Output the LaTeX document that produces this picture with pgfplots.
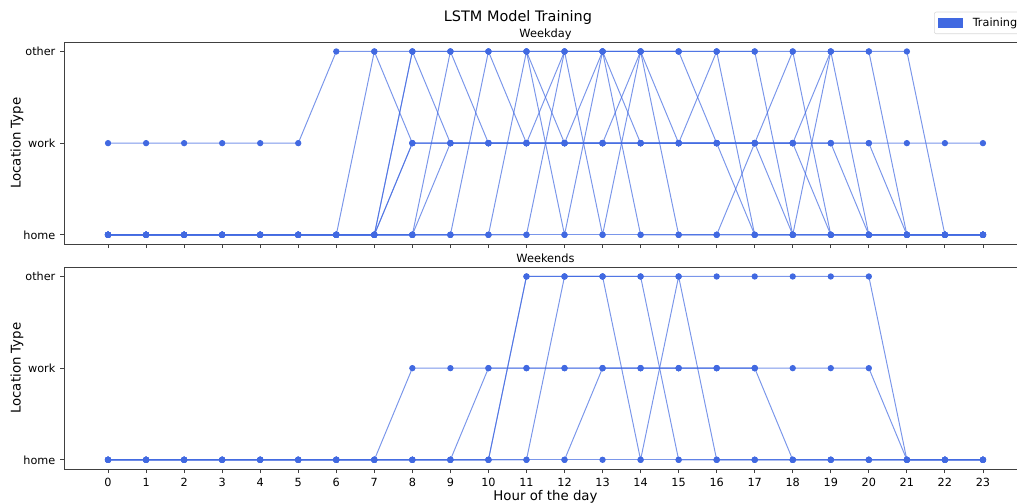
\documentclass[border=0pt]{standalone}
\usepackage{fontspec}
\setmainfont{DejaVu Sans}
\usepackage{pgfplots}
\usepackage{pgfplotstable}
\pgfplotsset{compat=1.18}
\definecolor{royal}{RGB}{65,105,225}

% one column per trajectory, 0 = home, 1 = work, 2 = other
\pgfplotstableread{
h  T1 T2 T3 C1 C2 C3 C4 C5 C6 C7 C8 C9  C10
0  0  1  0  0  0  0  0  0  0  0  0  nan 0
1  0  1  0  0  0  0  0  0  0  0  0  nan 0
2  0  1  0  0  0  0  0  0  0  0  0  nan 0
3  0  1  0  0  0  0  0  0  0  0  0  nan 0
4  0  1  0  0  0  0  0  0  0  0  0  nan 0
5  0  1  0  0  0  0  0  0  0  0  0  nan 0
6  0  2  0  0  0  0  0  0  0  0  0  nan 0
7  0  2  0  2  0  0  0  0  0  0  0  nan 0
8  0  2  1  1  2  0  0  0  0  0  2  nan 1
9  0  2  1  1  1  2  1  0  0  0  2  nan 1
10 0  2  1  1  1  1  1  2  0  0  2  nan 1
11 0  2  1  1  1  1  1  1  2  0  2  2   1
12 0  2  1  2  1  1  1  1  0  2  1  2   1
13 0  2  1  0  1  1  2  1  2  2  1  2   1
14 0  2  1  2  1  1  1  1  0  2  2  2   1
15 0  2  1  1  1  1  1  1  0  0  2  2   1
16 0  2  1  2  1  1  1  1  0  0  1  2   1
17 0  2  1  0  0  1  1  1  1  0  1  2   1
18 0  2  1  0  0  2  1  0  1  0  1  0   1
19 0  2  1  2  0  0  2  0  0  0  1  nan 1
20 0  2  1  0  0  0  2  0  0  0  0  nan 1
21 0  2  1  0  0  0  0  0  0  0  0  nan 0
22 0  0  1  0  0  0  0  0  0  0  0  nan 0
23 0  0  1  0  0  0  0  0  0  0  0  nan 0
}\weekday

\pgfplotstableread{
h  W1 W2 W3 W4 W5 W6  W7
0  0  0  0  0  0  nan 0
1  0  0  0  0  0  nan 0
2  0  0  0  0  0  nan 0
3  0  0  0  0  0  nan 0
4  0  0  0  0  0  nan 0
5  0  0  0  0  0  nan 0
6  0  0  0  0  0  nan 0
7  0  0  0  0  0  nan 0
8  0  1  0  0  0  nan 0
9  0  1  0  0  0  nan 0
10 0  1  1  0  0  nan 0
11 0  1  1  2  0  nan 2
12 0  1  1  2  2  0   2
13 0  1  1  2  2  1   2
14 0  1  1  2  0  1   2
15 0  1  1  2  2  1   0
16 0  1  1  2  0  1   0
17 0  1  1  2  0  1   0
18 0  1  0  2  0  nan 0
19 0  1  0  2  0  nan 0
20 0  1  0  2  0  nan 0
21 0  0  0  0  0  nan 0
22 0  0  0  0  0  nan 0
23 0  0  0  0  0  nan 0
}\weekend

\tikzset{subtitle/.style={anchor=base, yshift=3.6pt, font=\fontsize{8.2}{9.8}\selectfont}}

\pgfplotsset{
  traj/.style={royal, draw opacity=0.7, line width=0.7pt, mark=*, mark size=1.9pt,
    mark options={fill=royal, draw=royal, draw opacity=1, fill opacity=1},
    unbounded coords=jump, forget plot},
  loc/.style={
    scale only axis, width=692.9pt, height=145.2pt,
    xmin=-1.15, xmax=24.15, ymin=-0.1, ymax=2.1,
    xtick={0,...,23}, ytick={0,1,2}, yticklabels={home,work,other},
    tick align=outside, major tick length=2.9pt, xtick pos=left, ytick pos=left,
    axis line style={black!75, line width=0.6pt},
    tick style={black!75, line width=0.6pt},
    tick label style={font=\fontsize{8.1}{9.7}\selectfont},
    /pgf/number format/assume math mode=true,
    ylabel={Location Type},
    ylabel style={at={(axis description cs:-0.0491,0.5)}, anchor=center, font=\fontsize{9.6}{11}\selectfont},
    clip=false,
  },
}

\begin{document}
\begin{tikzpicture}
\useasboundingbox (0,0) rectangle (732.24pt,362.16pt);

\begin{axis}[loc, at={(46.3pt,186.5pt)}, anchor=south west, xticklabels={},
    legend style={at={(axis description cs:0.9037,1.041)}, anchor=south west, draw=black!15,
      rounded corners=1.5pt, fill=white, font=\fontsize{8.1}{9.7}\selectfont}]
\pgfplotsinvokeforeach{T1,T2,T3,C1,C2,C3,C4,C5,C6,C7,C8,C9,C10}{
  \addplot[traj] table[x=h, y=#1] {\weekday};
}
\addlegendimage{legend image code/.code={\fill[royal, sharp corners] (0pt,-3.2pt) rectangle (17.3pt,3.2pt); \path (22.3pt,0pt);}}
\addlegendentry{Training}
\node[subtitle] at (axis description cs:0.5,1) {Weekday};
\node[anchor=base, font=\fontsize{10.4}{12.5}\selectfont] at (axis description cs:0.4714,1.104) {LSTM Model Training};
\end{axis}

\begin{axis}[loc, at={(46.3pt,24.5pt)}, anchor=south west,
    xlabel={Hour of the day},
    xlabel style={at={(axis description cs:0.5,0)}, anchor=base, yshift=-23pt, font=\fontsize{9.6}{11}\selectfont}]
\pgfplotsinvokeforeach{W1,W2,W3,W4,W5,W6,W7}{
  \addplot[traj] table[x=h, y=#1] {\weekend};
}
\node[subtitle] at (axis description cs:0.5,1) {Weekends};
\end{axis}
\end{tikzpicture}
\end{document}
